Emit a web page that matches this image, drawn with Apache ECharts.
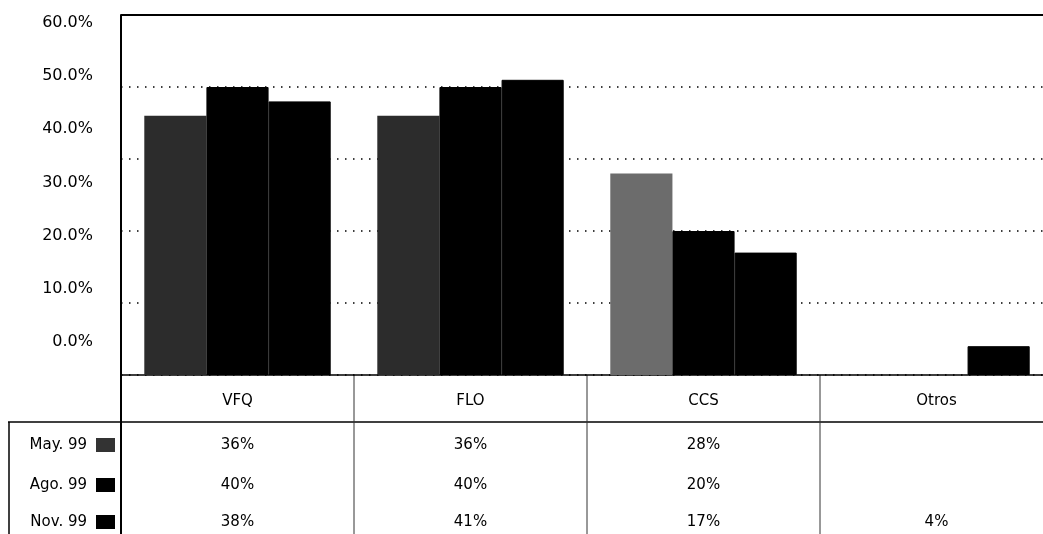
<!DOCTYPE html>
<html>
<head>
<meta charset="utf-8">
<script src="https://cdn.jsdelivr.net/npm/echarts@6/dist/echarts.min.js"></script>
<style>html,body{margin:0;padding:0;background:#fff}#c{width:1043px;height:534px}</style>
</head>
<body>
<div id="c"></div>
<script>
const categories = ['VFQ', 'FLO', 'CCS', 'Otros'];
const seriesNames = ['May. 99', 'Ago. 99', 'Nov. 99'];
const may99 = [36, 36, 28, null];
const ago99 = [40, 40, 20, null];
const nov99 = [38, 41, 17, 4];
const axisTickLabels = [0, 10, 20, 30, 40, 50, 60];

const FONT = 'DejaVu Sans';
const chart = echarts.init(document.getElementById('c'), null, {renderer: 'canvas'});

const mayColors = ['#2c2c2c', '#2c2c2c', '#6c6c6c', '#2c2c2c'];

chart.setOption({
  animation: false,
  backgroundColor: '#fff',
  grid: [
    {left: 121, top: 15, width: 932, height: 360, outerBoundsMode: 'none', containLabel: false},
    {left: 121, top: 23, width: 932, height: 319, outerBoundsMode: 'none', containLabel: false}
  ],
  xAxis: [
    {
      type: 'category', gridIndex: 0, data: categories,
      axisLine: {show: true, lineStyle: {color: '#000', width: 1.5}},
      axisTick: {show: false},
      axisLabel: {color: '#000', fontFamily: FONT, fontSize: 15, margin: 19}
    },
    {
      type: 'category', gridIndex: 0, data: categories, position: 'top',
      axisLine: {show: true, lineStyle: {color: '#000', width: 2}},
      axisTick: {show: false}, axisLabel: {show: false}
    },
    {type: 'category', gridIndex: 1, data: categories, show: false}
  ],
  yAxis: [
    {
      type: 'value', gridIndex: 0, min: 0, max: 50, interval: 10,
      axisLine: {show: false}, axisTick: {show: false}, axisLabel: {show: false},
      splitLine: {show: true, lineStyle: {color: '#000', width: 1.5, type: [1.5, 6.5]}}
    },
    {
      type: 'value', gridIndex: 1, min: axisTickLabels[0], max: axisTickLabels[axisTickLabels.length - 1], interval: 10,
      axisLine: {show: false}, axisTick: {show: false}, splitLine: {show: false},
      axisLabel: {color: '#000', fontFamily: FONT, fontSize: 16, margin: 28,
        formatter: v => v.toFixed(1) + '%'}
    }
  ],
  series: [
    {
      name: seriesNames[0], type: 'bar', xAxisIndex: 0, yAxisIndex: 0,
      data: may99.map((v, i) => ({value: v, itemStyle: {color: mayColors[i]}})),
      barGap: '0%', barCategoryGap: '20%'
    },
    {
      name: seriesNames[1], type: 'bar', xAxisIndex: 0, yAxisIndex: 0,
      data: ago99, itemStyle: {color: '#000', borderColor: '#000', borderWidth: 1},
      barGap: '0%', barCategoryGap: '20%'
    },
    {
      name: seriesNames[2], type: 'bar', xAxisIndex: 0, yAxisIndex: 0,
      data: nov99, itemStyle: {color: '#000', borderColor: '#000', borderWidth: 1},
      barGap: '0%', barCategoryGap: '20%'
    }
  ]
});

// Data table below the chart, positioned from the category axis scale
const rows = [may99, ago99, nov99];
const rowY = [445, 485, 522];
const swatch = ['#333', '#000', '#000'];
const graphics = [];
const xs = categories.map(c => chart.convertToPixel({xAxisIndex: 0}, c));
const step = xs.length > 1 ? xs[1] - xs[0] : 233;
const left = xs[0] - step / 2;
const bottomY = chart.convertToPixel({yAxisIndex: 0}, 0);
const topY = chart.convertToPixel({yAxisIndex: 0}, 50);

graphics.push({type: 'line', shape: {x1: left, y1: topY, x2: left, y2: 534}, style: {stroke: '#000', lineWidth: 2}});
graphics.push({type: 'line', shape: {x1: 8, y1: 422, x2: 1043, y2: 422}, style: {stroke: '#000', lineWidth: 1.5}});
graphics.push({type: 'line', shape: {x1: 9, y1: 422, x2: 9, y2: 534}, style: {stroke: '#000', lineWidth: 1.5}});
for (let k = 1; k < categories.length; k++) {
  const x = left + step * k;
  graphics.push({type: 'line', shape: {x1: x, y1: bottomY, x2: x, y2: 534}, style: {stroke: '#333', lineWidth: 1}});
}
rows.forEach((arr, r) => {
  graphics.push({type: 'text', style: {x: 87, y: rowY[r], text: seriesNames[r], fill: '#000',
    font: '15px "' + FONT + '"', align: 'right', verticalAlign: 'middle'}});
  graphics.push({type: 'rect', shape: {x: 96, y: rowY[r] - 7, width: 19, height: 14}, style: {fill: swatch[r]}});
  arr.forEach((v, i) => {
    if (v == null) return;
    graphics.push({type: 'text', style: {x: xs[i], y: rowY[r], text: v + '%', fill: '#000',
      font: '15px "' + FONT + '"', align: 'center', verticalAlign: 'middle'}});
  });
});
chart.setOption({graphic: {elements: graphics}});
</script>
</body>
</html>
